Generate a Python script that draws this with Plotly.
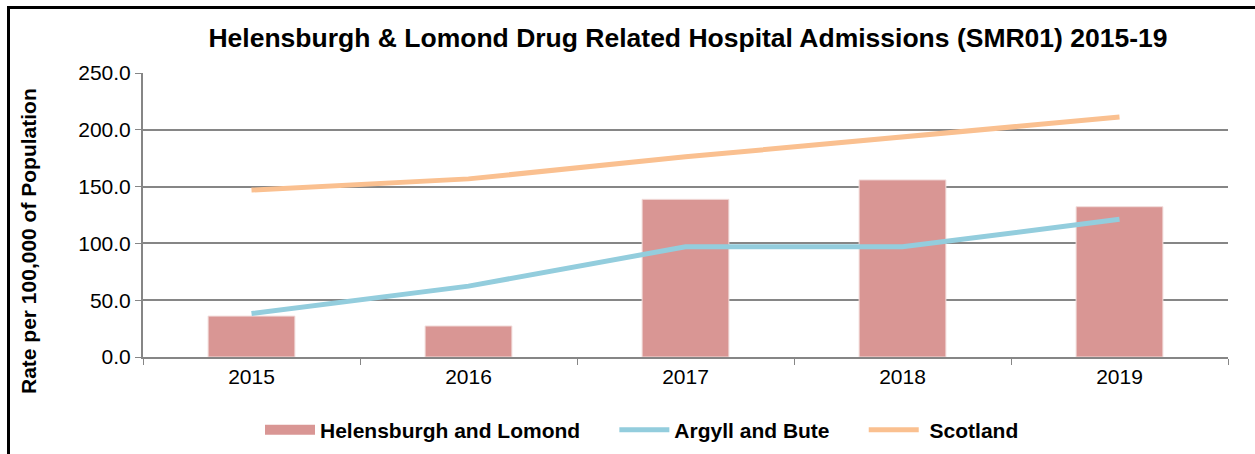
import plotly.graph_objects as go

years = ["2015", "2016", "2017", "2018", "2019"]
helensburgh = [36.0, 27.3, 138.8, 155.9, 132.3]
argyll = [38.3, 62.4, 97.0, 97.0, 121.2]
scotland = [147.0, 156.8, 176.2, 193.9, 211.2]
y_ticks = [0, 50, 100, 150, 200, 250]

FONT = "Liberation Sans, Arial, sans-serif"
BAR_COLOR = "#D99694"
PAD = "\u00a0" * 5

fig = go.Figure()
fig.add_trace(go.Bar(x=years, y=helensburgh, name="Helensburgh and Lomond",
                     marker=dict(color=BAR_COLOR, line=dict(color="#F2DCDB", width=1)),
                     width=0.4, showlegend=False))
# legend-only entry giving the wide rectangular swatch of the bar series
fig.add_trace(go.Scatter(x=[None], y=[None], name="<b>Helensburgh and Lomond</b>" + PAD, mode="lines",
                         line=dict(color=BAR_COLOR, width=11)))
fig.add_trace(go.Scatter(x=years, y=argyll, name="<b>Argyll and Bute</b>" + PAD, mode="lines",
                         line=dict(color="#93CDDD", width=5)))
fig.add_trace(go.Scatter(x=years, y=scotland, name="\u00a0<b>Scotland</b>", mode="lines",
                         line=dict(color="#FAC090", width=5)))

L, R, T, B = 143, 27, 73, 97
W, H = 1255, 454
pw, ph = W - L - R, H - T - B

fig.update_layout(
    width=W, height=H,
    margin=dict(l=L, r=R, t=T, b=B, autoexpand=False),
    paper_bgcolor="white", plot_bgcolor="white",
    font=dict(family=FONT, color="black", size=21),
    title=dict(text="<b>Helensburgh & Lomond Drug Related Hospital Admissions (SMR01) 2015-19</b>",
               x=(688 - L) / pw, xref="paper", xanchor="center",
               y=1 - 38 / H, yref="container", yanchor="middle",
               font=dict(size=26.5, family=FONT, color="black")),
    showlegend=True,
    legend=dict(orientation="h", x=(642 - L) / pw, xanchor="center",
                y=(H - B - 430) / ph, yanchor="middle",
                font=dict(size=21, family=FONT, color="black"),
                itemwidth=50, traceorder="normal"),
    xaxis=dict(type="category", showgrid=False, showline=True, linecolor="#868686", linewidth=2,
               ticks="outside", tickson="boundaries", ticklen=6, tickcolor="#868686",
               tickfont=dict(size=21, family=FONT, color="black")),
    yaxis=dict(range=[0, 250], tickvals=y_ticks, tickformat=".1f",
               showgrid=True, gridcolor="#868686", gridwidth=2,
               showline=True, linecolor="#868686", linewidth=2,
               ticks="outside", ticklen=6, tickcolor="#868686",
               zeroline=False,
               tickfont=dict(size=21, family=FONT, color="black")),
)

fig.add_annotation(text="<b>Rate per 100,000 of Population</b>", textangle=-90,
                   xref="paper", yref="paper", x=(28 - L) / pw, y=(H - B - 241) / ph,
                   xanchor="center", yanchor="middle", showarrow=False,
                   font=dict(size=21, family=FONT, color="black"))

# chart frame (left and top edges visible)
fig.add_shape(type="rect", xref="paper", yref="paper",
              x0=(8.5 - L) / pw, x1=(W + 5 - L) / pw,
              y0=-(B + 10) / ph, y1=1 + (T - 7.5) / ph,
              line=dict(color="black", width=3), fillcolor="rgba(0,0,0,0)", layer="above")

fig.write_html("out.html", config={"displayModeBar": False},
               post_script="document.body.style.margin='0';document.body.style.overflow='hidden';")
